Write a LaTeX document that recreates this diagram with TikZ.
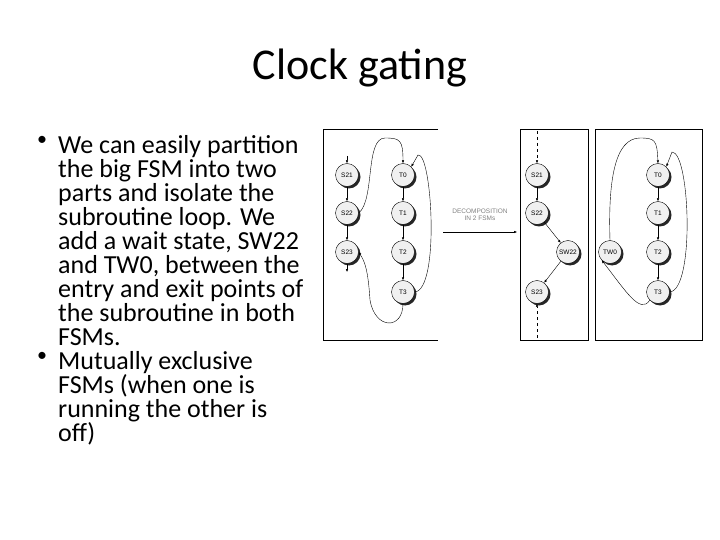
\documentclass[tikz,border=0pt]{standalone}
\usepackage{fontspec}
\setmainfont{Carlito}
\newfontfamily\dfont{Liberation Sans}
\usetikzlibrary{shadows,arrows.meta}
\begin{document}
\begin{tikzpicture}[x=1pt,y=-1pt,
  st/.style={circle,draw,thin,fill=gray!12,minimum size=23pt,inner sep=0pt,font=\dfont\fontsize{6.5}{7}\selectfont,drop shadow={shadow xshift=2pt,shadow yshift=-2pt,fill=black,opacity=0.85}},
  ar/.style={-{Latex[length=3pt,width=2.5pt]},thin},
  pan/.style={draw,thick},
  btxt/.style={anchor=north west,align=left,inner sep=0pt,font=\fontsize{26}{24}\selectfont},
  bul/.style={anchor=north west,inner sep=0pt,font=\fontsize{20}{24}\selectfont}]
\useasboundingbox (0,0) rectangle (720,540);
\node (title) at (360,68) {\fontsize{44}{48}\selectfont Clock gating};
\node[bul] (b1) at (37,136) {\textbullet};
\node[btxt] (t1) at (58,135) {We can easily partition\\the big FSM into two\\parts and isolate the\\subroutine loop. We\\add a wait state, SW22\\and TW0, between the\\entry and exit points of\\the subroutine in both\\FSMs.};
\node[bul] (b2) at (37,352) {\textbullet};
\node[btxt] (t2) at (58,351) {Mutually exclusive\\FSMs (when one is\\running the other is\\off)};
% panels
\draw[pan] (438,129) -- (323,129) -- (323,340) -- (438,340);
\draw[pan] (520,129) rectangle (588,340);
\draw[pan] (595,129) rectangle (702,340);
% left FSM
\node[st] (a1) at (347,175) {S21};
\node[st] (a2) at (347,213) {S22};
\node[st] (a3) at (347,252) {S23};
\node[st] (b0) at (403,175) {T0};
\node[st] (bb1) at (403,213) {T1};
\node[st] (bb2) at (403,252) {T2};
\node[st] (b3) at (403,292) {T3};
\coordinate (ain) at (347,156);
\coordinate (aout) at (347,272);
\draw[ar] (ain) -- (a1);
\draw[ar] (a1) -- (a2);
\draw[ar] (a2) -- (a3);
\draw[ar] (a3) -- (aout);
\draw[ar] (b0) -- (bb1);
\draw[ar] (bb1) -- (bb2);
\draw[ar] (bb2) -- (b3);
\draw[ar] (a2.east) .. controls (375,200) and (365,138) .. (385,138) .. controls (400,138) and (403,140) .. (b0.north);
\draw[ar] (b3.east) .. controls (440,290) and (432,152) .. (418,155) -- (b0.north east);
\draw[ar] (b3.south) .. controls (403,330) and (375,330) .. (370,300) .. controls (368,270) and (365,262) .. (a3.east);
% decomposition
\coordinate (d1) at (443,232);
\coordinate (d2) at (517,232);
\draw[ar] (d1) -- (d2);
\node[align=center,font=\dfont\fontsize{6.5}{7.5}\selectfont,text=gray] (dl) at (480,215) {DECOMPOSITION\\IN 2 FSMs};
% middle FSM
\node[st] (c1) at (537,175) {S21};
\node[st] (c2) at (537,213) {S22};
\node[st] (cw) at (568,252) {SW22};
\node[st] (c3) at (537,292) {S23};
\coordinate (cin) at (537,131);
\coordinate (cout) at (537,338);
\draw[ar,dashed] (cin) -- (c1);
\draw[ar] (c1) -- (c2);
\draw[ar] (c2) -- (cw);
\draw[ar] (cw) -- (c3);
\draw[ar,dashed] (cout) -- (c3);
% right FSM
\node[st] (e0) at (658,175) {T0};
\node[st] (e1) at (658,213) {T1};
\node[st] (e2) at (658,252) {T2};
\node[st] (e3) at (658,292) {T3};
\node[st] (tw) at (610,252) {TW0};
\draw[ar] (e0) -- (e1);
\draw[ar] (e1) -- (e2);
\draw[ar] (e2) -- (e3);
\draw[ar] (tw.north) .. controls (608,180) and (615,138) .. (640,138) .. controls (655,138) and (657,140) .. (e0.north);
\draw[ar] (e3.east) .. controls (695,290) and (690,152) .. (672,152) -- (e0.north east);
\draw[ar] (e3.south west) .. controls (640,315) and (625,290) .. (tw.south west);
\end{tikzpicture}
\end{document}
